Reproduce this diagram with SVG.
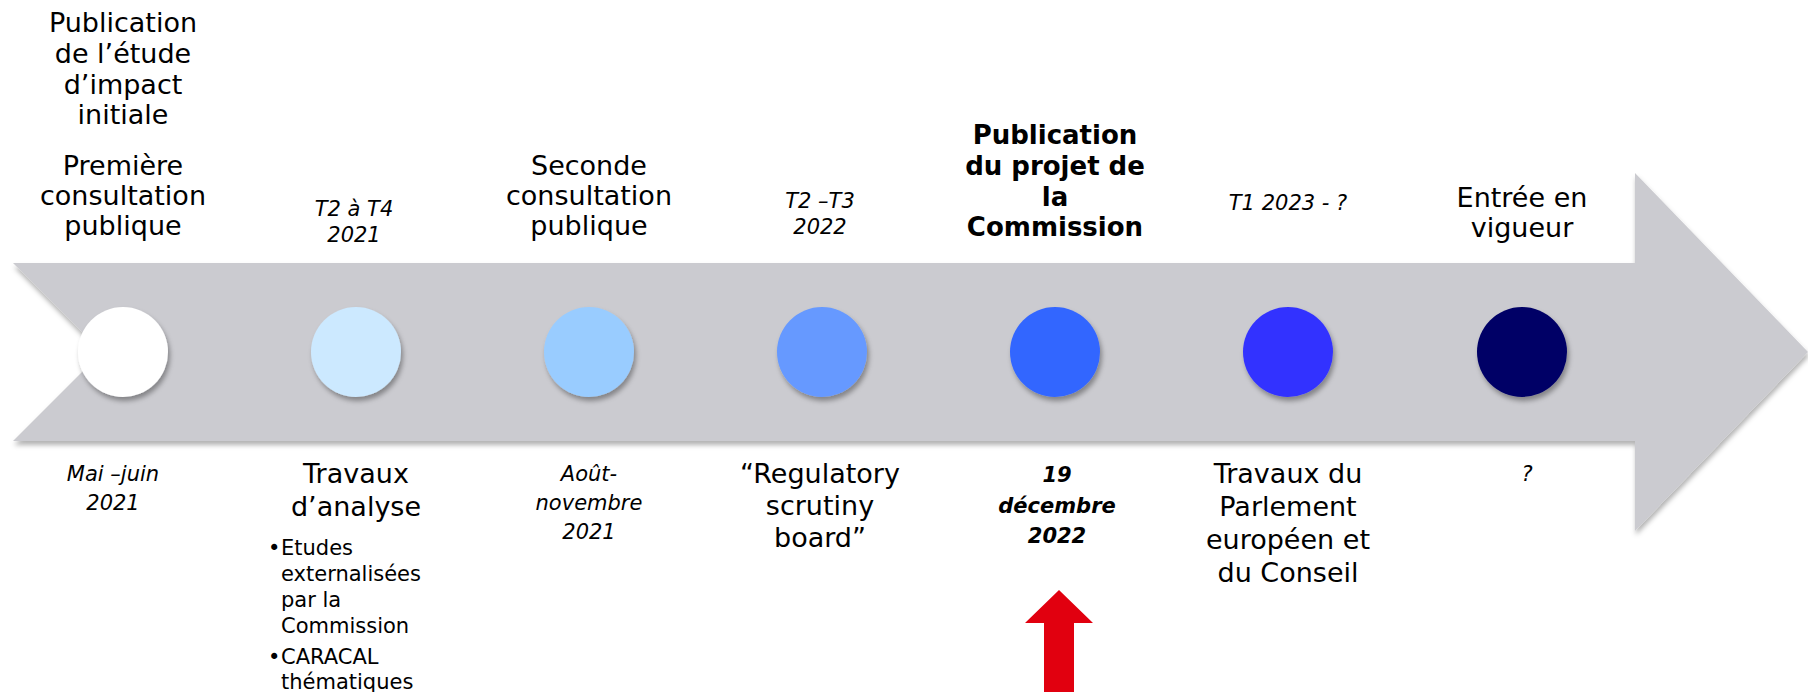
<svg xmlns="http://www.w3.org/2000/svg" width="1808" height="692" viewBox="0 0 1808 692">
<style>
text{font-family:"DejaVu Sans","Noto Sans",sans-serif;fill:#000;text-anchor:middle}
.r{font-size:27px}
.b{font-size:26px;font-weight:bold}
.i{font-size:21px;font-style:italic}
.bi{font-size:21px;font-style:italic;font-weight:bold}
.s{font-size:21px;text-anchor:start}
</style>
<defs>
<filter id="sh" x="-10%" y="-20%" width="120%" height="150%">
<feDropShadow dx="1" dy="4" stdDeviation="2.5" flood-color="#000" flood-opacity="0.3"/>
</filter>
<filter id="csh" x="-30%" y="-30%" width="160%" height="160%">
<feDropShadow dx="2" dy="4" stdDeviation="2.5" flood-color="#000" flood-opacity="0.35"/>
</filter>
</defs>
<g id="timeline">
<polygon points="13,263 1635,263 1635,173 1808,352 1635,531 1635,441 13,441 102,352" fill="#cbcbd0" filter="url(#sh)"/>
</g>
<g id="step1">
<circle cx="123" cy="352" r="45" fill="#ffffff" filter="url(#csh)"/>
<text class="r"><tspan x="123" y="32">Publication</tspan><tspan x="123" y="63">de l’étude</tspan><tspan x="123" y="94">d’impact</tspan><tspan x="123" y="124">initiale</tspan></text>
<text class="r"><tspan x="123" y="175">Première</tspan><tspan x="123" y="205">consultation</tspan><tspan x="123" y="235">publique</tspan></text>
<text class="i"><tspan x="113" y="481">Mai –juin</tspan><tspan x="113" y="510">2021</tspan></text>
</g>
<g id="step2">
<circle cx="356" cy="352" r="45" fill="#cce9ff" filter="url(#csh)"/>
<text class="i"><tspan x="354" y="216">T2 à T4</tspan><tspan x="354" y="242">2021</tspan></text>
<text class="r"><tspan x="356" y="483">Travaux</tspan><tspan x="356" y="516">d’analyse</tspan></text>
<text class="s"><tspan x="268" y="555">•</tspan><tspan x="281" y="555">Etudes</tspan><tspan x="281" y="581">externalisées</tspan><tspan x="281" y="607">par la</tspan><tspan x="281" y="633">Commission</tspan><tspan x="268" y="664">•</tspan><tspan x="281" y="664">CARACAL</tspan><tspan x="281" y="689">thématiques</tspan></text>
</g>
<g id="step3">
<circle cx="589" cy="352" r="45" fill="#99ccff" filter="url(#csh)"/>
<text class="r"><tspan x="589" y="175">Seconde</tspan><tspan x="589" y="205">consultation</tspan><tspan x="589" y="235">publique</tspan></text>
<text class="i"><tspan x="589" y="481">Août-</tspan><tspan x="589" y="510">novembre</tspan><tspan x="589" y="539">2021</tspan></text>
</g>
<g id="step4">
<circle cx="822" cy="352" r="45" fill="#6699ff" filter="url(#csh)"/>
<text class="i"><tspan x="820" y="208">T2 –T3</tspan><tspan x="820" y="234">2022</tspan></text>
<text class="r"><tspan x="820" y="483">“Regulatory</tspan><tspan x="820" y="515">scrutiny</tspan><tspan x="820" y="547">board”</tspan></text>
</g>
<g id="step5">
<circle cx="1055" cy="352" r="45" fill="#3366ff" filter="url(#csh)"/>
<text class="b"><tspan x="1055" y="144">Publication</tspan><tspan x="1055" y="175">du projet de</tspan><tspan x="1055" y="206">la</tspan><tspan x="1055" y="236">Commission</tspan></text>
<text class="bi"><tspan x="1057" y="482">19</tspan><tspan x="1057" y="513">décembre</tspan><tspan x="1057" y="543">2022</tspan></text>
</g>
<g id="step6">
<circle cx="1288" cy="352" r="45" fill="#3333ff" filter="url(#csh)"/>
<text class="i"><tspan x="1288" y="210">T1 2023 - ?</tspan></text>
<text class="r"><tspan x="1288" y="483">Travaux du</tspan><tspan x="1288" y="516">Parlement</tspan><tspan x="1288" y="549">européen et</tspan><tspan x="1288" y="582">du Conseil</tspan></text>
</g>
<g id="step7">
<circle cx="1522" cy="352" r="45" fill="#000066" filter="url(#csh)"/>
<text class="r"><tspan x="1522" y="207">Entrée en</tspan><tspan x="1522" y="237">vigueur</tspan></text>
<text class="i"><tspan x="1527" y="481">?</tspan></text>
</g>
<g id="connectors">
<polygon points="1059,590 1093,623 1074,623 1074,692 1044,692 1044,623 1025,623" fill="#e1000f"/>
</g>
</svg>
